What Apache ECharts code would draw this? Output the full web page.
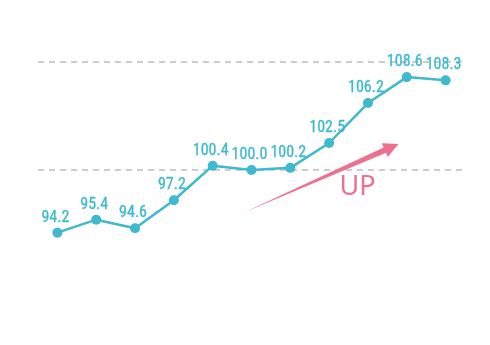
<!DOCTYPE html>
<html>
<head>
<meta charset="utf-8">
<script src="https://cdn.jsdelivr.net/npm/echarts@6/dist/echarts.min.js"></script>
<style>html,body{margin:0;padding:0;background:#fff}#c{width:490px;height:345px}</style>
</head>
<body>
<div id="c"></div>
<script>
var categories = ['1','2','3','4','5','6','7','8','9','10','11'];
var values = [94.2, 95.4, 94.6, 97.2, 100.4, 100.0, 100.2, 102.5, 106.2, 108.6, 108.3];
var refLines = [100, 110];
var annotationText = 'UP';

var chart = echarts.init(document.getElementById('c'), null, {renderer: 'canvas'});
var teal = '#3eb9cd';
var pink = '#ec7090';
chart.setOption({
  animation: false,
  grid: {left: 38, right: 25, top: 62, bottom: 67},
  xAxis: {
    type: 'category', data: categories, boundaryGap: true,
    axisLine: {show: false}, axisTick: {show: false}, axisLabel: {show: false}, splitLine: {show: false}
  },
  yAxis: {
    type: 'value', min: 90, max: 110, interval: 10,
    axisLine: {show: false}, axisTick: {show: false}, axisLabel: {show: false}, splitLine: {show: false}
  },
  series: [{
    type: 'line',
    data: values,
    symbol: 'circle',
    symbolSize: 10,
    lineStyle: {color: teal, width: 2.5},
    itemStyle: {color: teal},
    label: {
      show: true, position: 'top', distance: 2, offset: [-2, 0],
      color: teal, fontSize: 16, fontFamily: '"Roboto Condensed", sans-serif',
      textBorderColor: teal, textBorderWidth: 0.3,
      formatter: function (p) { return p.value.toFixed(1); }
    },
    markLine: {
      silent: true, symbol: ['none', 'none'],
      label: {show: false},
      lineStyle: {color: '#bdbdbd', type: [6, 5], width: 1.5},
      data: refLines.map(function (v) { return {yAxis: v}; }),
      z: 1
    },
    z: 3
  }],
  graphic: [
    {
      type: 'polygon', z: 10,
      shape: {points: [[245, 212], [383.6, 147.4], [381.8, 143.2], [398.5, 144], [387.8, 157], [386, 152.8]]},
      style: {fill: pink}
    },
    {
      type: 'text', z: 10, x: 357.5, y: 187.5,
      style: {text: annotationText, fill: pink, font: '27px "Noto Sans", sans-serif', align: 'center', verticalAlign: 'middle'}
    }
  ]
});
</script>
</body>
</html>
